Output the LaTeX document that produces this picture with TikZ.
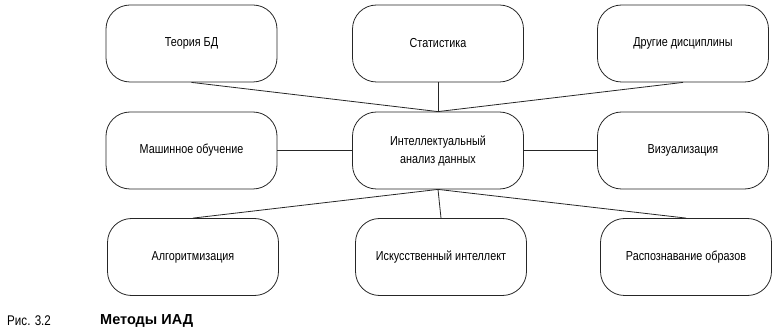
\documentclass[tikz,border=0pt]{standalone}
\usepackage{fontspec}
\setmainfont{Liberation Sans}[FakeStretch=0.83]
\newfontfamily\capfont{Liberation Sans}
\begin{document}
\begin{tikzpicture}[x=1pt,y=-1pt,
  box/.style={draw=black!85,line width=0.8pt,rounded corners=24pt,minimum width=171pt,minimum height=77pt,align=center,font=\fontsize{13}{18}\selectfont,inner sep=0pt},
  link/.style={draw=black!85,line width=0.8pt},
  captxt/.style={anchor=west,inner sep=0pt}]
\useasboundingbox (0,0) rectangle (777,331);
\node[box] (bd) at (191.5,43.5) {Теория БД};
\node[box] (st) at (438,43.5) {Статистика};
\node[box] (dr) at (683,43.5) {Другие дисциплины};
\node[box] (ml) at (191.5,150.5) {Машинное обучение};
\node[box] (ia) at (438,150.5) {Интеллектуальный\\анализ данных};
\node[box] (vi) at (683,150.5) {Визуализация};
\node[box] (al) at (193,257) {Алгоритмизация};
\node[box] (ai) at (441,257) {Искусственный интеллект};
\node[box] (pr) at (686,257) {Распознавание образов};
\draw[link] (bd.south) -- (ia.north);
\draw[link] (st.south) -- (ia.north);
\draw[link] (dr.south) -- (ia.north);
\draw[link] (ml.east) -- (ia.west);
\draw[link] (ia.east) -- (vi.west);
\draw[link] (ia.south) -- (al.north);
\draw[link] (ia.south) -- (ai.north);
\draw[link] (ia.south) -- (pr.north);
\node[captxt,font=\fontsize{14}{16}\selectfont] (c1) at (7,320.5) {Рис. 3.2};
\node[captxt,font=\capfont\fontsize{14.5}{16}\selectfont\bfseries] (c2) at (100,320.5) {Методы ИАД};
\end{tikzpicture}
\end{document}
